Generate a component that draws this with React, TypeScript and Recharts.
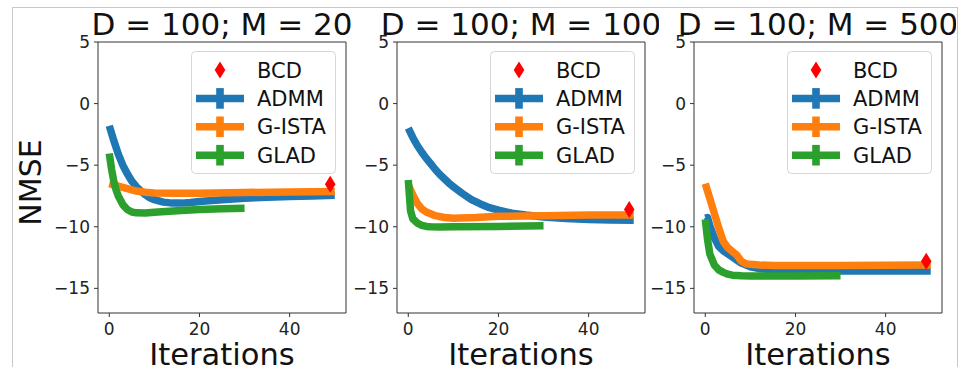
import React from 'react';
import { ComposedChart, Line, Scatter, XAxis, YAxis, ReferenceArea, Label } from 'recharts';

const FONT = '"DejaVu Sans", sans-serif';
const BLUE = '#1f77b4';
const ORANGE = '#ff7f0e';
const GREEN = '#2ca02c';

// Tick labels / axis settings
const xTicks = [0, 20, 40];
const yTicks = [-15, -10, -5, 0, 5];
const xDomain = [-2.5, 52.5];
const yDomain = [-17, 5];
const seriesNames = ['BCD', 'ADMM', 'G-ISTA', 'GLAD'];
const titles = ['D = 100; M = 20', 'D = 100; M = 100', 'D = 100; M = 500'];

// Panel 1: M = 20
const admm20X = [0, 1, 2, 3, 4, 5, 6, 7, 8, 9, 10, 12, 14, 16, 18, 20, 25, 30, 35, 40, 45, 50];
const admm20Y = [-1.8, -3.0, -4.1, -5.0, -5.7, -6.3, -6.75, -7.1, -7.4, -7.65, -7.8, -8.0, -8.08, -8.08, -8.03, -7.95, -7.8, -7.68, -7.6, -7.55, -7.5, -7.45];
const gista20X = [0, 2, 4, 6, 8, 10, 15, 20, 30, 40, 50];
const gista20Y = [-6.5, -6.7, -6.9, -7.1, -7.2, -7.25, -7.28, -7.27, -7.22, -7.17, -7.13];
const glad20X = [0, 0.5, 1, 1.5, 2, 3, 4, 5, 6, 8, 10, 15, 20, 25, 30];
const glad20Y = [-4.05, -5.3, -6.3, -7.0, -7.5, -8.2, -8.6, -8.8, -8.87, -8.88, -8.82, -8.7, -8.6, -8.53, -8.5];
const bcd20 = [{ x: 49, y: -6.55 }];

// Panel 2: M = 100
const admm100X = [0, 1, 2, 3, 4, 5, 6, 7, 8, 9, 10, 12, 14, 16, 18, 20, 23, 26, 30, 35, 40, 45, 50];
const admm100Y = [-2.0, -2.75, -3.4, -3.95, -4.45, -4.9, -5.35, -5.75, -6.1, -6.45, -6.75, -7.3, -7.8, -8.15, -8.45, -8.65, -8.9, -9.05, -9.2, -9.33, -9.4, -9.45, -9.47];
const gista100X = [0, 1, 2, 3, 4, 6, 8, 10, 15, 20, 30, 40, 50];
const gista100Y = [-6.6, -7.4, -8.1, -8.55, -8.8, -9.1, -9.25, -9.3, -9.25, -9.15, -9.1, -9.05, -9.05];
const glad100X = [0, 0.5, 1, 2, 3, 4, 5, 7, 10, 20, 30];
const glad100Y = [-6.2, -8.7, -9.35, -9.7, -9.88, -9.97, -10.0, -10.02, -10.0, -9.97, -9.92];
const bcd100 = [{ x: 49, y: -8.6 }];

// Panel 3: M = 500
const admm500X = [0, 0.5, 1, 2, 3, 4, 5, 6, 7, 8, 10, 12, 15, 20, 30, 40, 50];
const admm500Y = [-9.3, -9.25, -9.9, -10.9, -11.6, -11.95, -12.2, -12.45, -12.7, -12.95, -13.25, -13.4, -13.5, -13.57, -13.6, -13.6, -13.6];
const gista500X = [0, 1, 2, 3, 4, 5, 6, 7, 8, 9, 10, 12, 15, 20, 30, 40, 50];
const gista500Y = [-6.5, -7.7, -8.9, -10.1, -11.2, -11.7, -12.0, -12.3, -12.8, -13.0, -13.05, -13.1, -13.15, -13.15, -13.15, -13.12, -13.1];
const glad500X = [0, 0.5, 1, 2, 3, 4, 5, 6, 8, 10, 20, 30];
const glad500Y = [-9.4, -11.0, -12.2, -13.1, -13.5, -13.7, -13.85, -13.93, -13.98, -14.0, -14.0, -13.98];
const bcd500 = [{ x: 49, y: -12.8 }];

const pts = (xs: number[], ys: number[]) => xs.map((x, i) => ({ x, y: ys[i] }));

const panels = [
  { title: titles[0], plotLeft: 98, admm: pts(admm20X, admm20Y), gista: pts(gista20X, gista20Y), glad: pts(glad20X, glad20Y), bcd: bcd20, ylabel: true },
  { title: titles[1], plotLeft: 397, admm: pts(admm100X, admm100Y), gista: pts(gista100X, gista100Y), glad: pts(glad100X, glad100Y), bcd: bcd100, ylabel: false },
  { title: titles[2], plotLeft: 694, admm: pts(admm500X, admm500Y), gista: pts(gista500X, gista500Y), glad: pts(glad500X, glad500Y), bcd: bcd500, ylabel: false },
];

const Diamond = (props: any) => {
  const { cx, cy } = props;
  if (cx == null || cy == null) return null;
  const w = 5.3, h = 8.5;
  return <polygon points={`${cx},${cy - h} ${cx + w},${cy} ${cx},${cy + h} ${cx - w},${cy}`} fill="#ff0000" />;
};

const fmt = (v: number) => String(v).replace('-', '\u2212');

const NmseLabel = (props: any) => {
  const vb = props.viewBox || { x: 0, y: 42, width: 98, height: 271 };
  const x = vb.x + 30;
  const y = vb.y + vb.height / 2 + 5;
  return (
    <text x={x} y={y} dy="0.36em" transform={`rotate(-90, ${x}, ${y})`} textAnchor="middle" fontSize={30} fontFamily={FONT} fill="#111">
      NMSE
    </text>
  );
};

const LegendBox = ({ left }: { left: number }) => {
  const rows = [0, 1, 2, 3].map((i) => 19 + i * 28.4);
  const colors = [null, BLUE, ORANGE, GREEN];
  return (
    <svg style={{ position: 'absolute', left, top: 51 }} width={146} height={124}>
      <rect x={0.5} y={0.5} width={144} height={122} rx={4} fill="#ffffff" fillOpacity={0.85} stroke="#d6d6d6" />
      {seriesNames.map((name, i) => {
        const y = rows[i];
        const c = colors[i];
        return (
          <g key={name}>
            {c ? (
              <g>
                <line x1={5} x2={53} y1={y} y2={y} stroke={c} strokeWidth={7.5} />
                <rect x={29 - 3.8} y={y - 10.3} width={7.6} height={20.6} fill={c} />
              </g>
            ) : (
              <polygon points={`29,${y - 8.5} 34.3,${y} 29,${y + 8.5} 23.7,${y}`} fill="#ff0000" />
            )}
            <text x={66} y={y} dy="0.36em" fontSize={21} fontFamily={FONT} fill="#111">{name}</text>
          </g>
        );
      })}
    </svg>
  );
};

const Panel = ({ p }: { p: any }) => {
  const W = 360;
  const H = 367;
  const tickStyle = { fill: '#222', fontSize: 17, fontFamily: FONT };
  return (
    <div style={{ position: 'absolute', left: p.plotLeft - 98, top: 0, width: W, height: H }}>
      <ComposedChart width={W} height={H} margin={{ top: 42, right: 14, bottom: 0, left: 0 }}>
        <XAxis
          type="number"
          dataKey="x"
          domain={xDomain}
          ticks={xTicks}
          allowDataOverflow
          axisLine={false}
          tickLine={{ stroke: '#333' }}
          tickSize={4}
          tickMargin={6}
          height={54}
          tick={tickStyle}
          tickFormatter={fmt}
        >
          <Label value="Iterations" position="insideBottom" offset={2} style={{ fontSize: 30.5, fill: '#111', fontFamily: FONT }} />
        </XAxis>
        <YAxis
          type="number"
          dataKey="y"
          domain={yDomain}
          ticks={yTicks}
          allowDataOverflow
          axisLine={false}
          tickLine={{ stroke: '#333' }}
          tickSize={4}
          tickMargin={4}
          width={98}
          tick={tickStyle}
          tickFormatter={fmt}
        >
          {p.ylabel ? <Label content={NmseLabel} /> : null}
        </YAxis>
        <Scatter data={p.bcd} dataKey="y" fill="#ff0000" shape={Diamond} isAnimationActive={false} />
        <Line data={p.admm} dataKey="y" type="linear" stroke={BLUE} strokeWidth={7.5} dot={false} isAnimationActive={false} strokeLinejoin="round" />
        <Line data={p.gista} dataKey="y" type="linear" stroke={ORANGE} strokeWidth={7.5} dot={false} isAnimationActive={false} strokeLinejoin="round" />
        <Line data={p.glad} dataKey="y" type="linear" stroke={GREEN} strokeWidth={7.5} dot={false} isAnimationActive={false} strokeLinejoin="round" />
        <ReferenceArea
          x1={xDomain[0]}
          x2={xDomain[1]}
          y1={yDomain[0]}
          y2={yDomain[1]}
          fill="none"
          fillOpacity={0}
          stroke="#333"
          strokeWidth={1}
          label={{ value: p.title, position: 'top', offset: 7, fontSize: 31, fill: '#111', fontFamily: FONT }}
        />
      </ComposedChart>
      <LegendBox left={98 + 93} />
    </div>
  );
};

export default function App() {
  return (
    <div style={{ position: 'fixed', left: 0, top: 0, width: 960, height: 367, overflow: 'hidden', background: '#fff', fontFamily: FONT }}>
      <div style={{ position: 'absolute', left: 12, top: 7, width: 944, height: 400, borderLeft: '1px solid #c8c8c8', borderTop: '1px solid #c8c8c8', borderRight: '1px solid #c8c8c8' }} />
      {panels.map((p, i) => (
        <Panel key={i} p={p} />
      ))}
    </div>
  );
}
